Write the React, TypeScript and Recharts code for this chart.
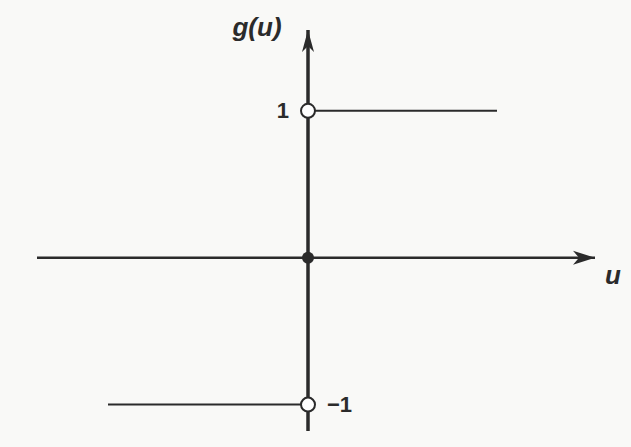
import React from "react";
import { ComposedChart, Line, Scatter, XAxis, YAxis, ReferenceDot } from "recharts";

// step function g(u) = sign(u)
const upperBranch = [
  { u: 0, v: 1 },
  { u: 1.89, v: 1 },
];
const lowerBranch = [
  { u: -2, v: -1 },
  { u: 0, v: -1 },
];
const uAxis = [
  { u: -2.71, v: 0 },
  { u: 2.87, v: 0 },
];
const gAxis = [
  { u: 0, v: -1.18 },
  { u: 0, v: 1.55 },
];
const openPoints = [
  { u: 0, v: 1 },
  { u: 0, v: -1 },
];
const closedPoints = [{ u: 0, v: 0 }];

const INK = "#2b2b2b";
const FONT = "'Liberation Sans', Arial, sans-serif";

const rightArrow = (p: any) => {
  if (p.index !== uAxis.length - 1) return <g key={p.key ?? p.index} />;
  const { cx, cy } = p;
  return (
    <path
      key={p.key ?? p.index}
      d={`M${cx},${cy} L${cx - 22},${cy - 7} L${cx - 16},${cy} L${cx - 22},${cy + 7} Z`}
      fill={INK}
    />
  );
};

const upArrow = (p: any) => {
  if (p.index !== gAxis.length - 1) return <g key={p.key ?? p.index} />;
  const { cx, cy } = p;
  return (
    <path
      key={p.key ?? p.index}
      d={`M${cx},${cy} L${cx - 6},${cy + 22} L${cx},${cy + 16} L${cx + 6},${cy + 22} Z`}
      fill={INK}
    />
  );
};

const label = (text: string, anchor: "start" | "middle" | "end", size: number, italic: boolean) =>
  (p: any) => (
    <text
      x={p.cx}
      y={p.cy}
      textAnchor={anchor}
      dominantBaseline="central"
      fontFamily={FONT}
      fontWeight="bold"
      fontStyle={italic ? "italic" : "normal"}
      fontSize={size}
      fill={INK}
    >
      {text}
    </text>
  );

export default function App() {
  return (
    <div style={{ position: "absolute", left: 0, top: 0, width: 631, height: 447, background: "#f9f9f7" }}>
      <ComposedChart width={631} height={447} margin={{ top: 8, right: 3, bottom: 13, left: 8 }}>
        <XAxis type="number" dataKey="u" domain={[-3, 3.2]} allowDataOverflow hide />
        <YAxis type="number" domain={[-1.2, 1.7]} allowDataOverflow hide />
        <Line data={uAxis} dataKey="v" stroke={INK} strokeWidth={2.5} dot={rightArrow} activeDot={false} isAnimationActive={false} />
        <Line data={gAxis} dataKey="v" stroke={INK} strokeWidth={3.5} dot={upArrow} activeDot={false} isAnimationActive={false} />
        <Line data={upperBranch} dataKey="v" stroke={INK} strokeWidth={2} dot={false} activeDot={false} isAnimationActive={false} />
        <Line data={lowerBranch} dataKey="v" stroke={INK} strokeWidth={2} dot={false} activeDot={false} isAnimationActive={false} />
        <Scatter
          data={openPoints}
          dataKey="v"
          isAnimationActive={false}
          shape={(p: any) => <circle cx={p.cx} cy={p.cy} r={7} fill="#ffffff" stroke={INK} strokeWidth={2} />}
        />
        <Scatter
          data={closedPoints}
          dataKey="v"
          isAnimationActive={false}
          shape={(p: any) => <circle cx={p.cx} cy={p.cy} r={6} fill={INK} />}
        />
        <ReferenceDot x={-0.51} y={1.57} r={0} ifOverflow="visible" shape={label("g(u)", "middle", 26, true)} />
        <ReferenceDot x={-0.19} y={1} r={0} ifOverflow="visible" shape={label("1", "end", 22, false)} />
        <ReferenceDot x={0.19} y={-1} r={0} ifOverflow="visible" shape={label("\u22121", "start", 22, false)} />
        <ReferenceDot x={3.05} y={-0.12} r={0} ifOverflow="visible" shape={label("u", "middle", 26, true)} />
      </ComposedChart>
    </div>
  );
}
